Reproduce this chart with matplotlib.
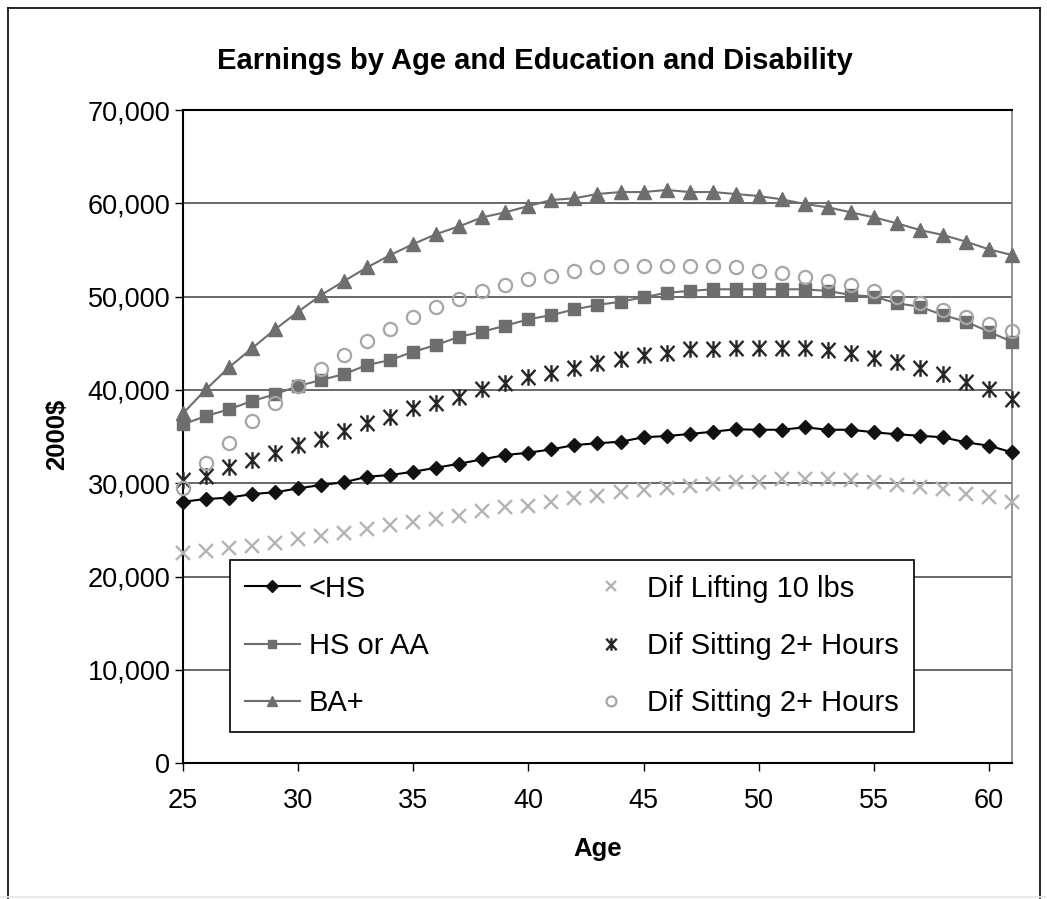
import matplotlib
matplotlib.use("Agg")
import matplotlib.pyplot as plt
from matplotlib.path import Path
from matplotlib.lines import Line2D
from matplotlib.ticker import FuncFormatter

plt.rcParams['font.family'] = ['Liberation Sans', 'DejaVu Sans']

# Age axis
ages = list(range(25, 62))

# Annual earnings (2000 dollars) by age
less_hs = [28030, 28320, 28460, 28850, 29040, 29460, 29820, 30110, 30710, 30890,
           31240, 31670, 32100, 32570, 33030, 33280, 33640, 34100, 34290, 34460,
           34930, 35070, 35280, 35530, 35790, 35740, 35740, 36000, 35740, 35740,
           35470, 35250, 35100, 34930, 34390, 34030, 33320]
hs_or_aa = [36320, 37210, 37930, 38820, 39540, 40430, 41070, 41710, 42680, 43210,
            44100, 44820, 45710, 46240, 46890, 47570, 48030, 48640, 49110, 49460,
            49930, 50420, 50610, 50790, 50790, 50790, 50790, 50790, 50610, 50180,
            50000, 49290, 48920, 48030, 47320, 46240, 45170]
ba_plus = [37500, 40070, 42430, 44470, 46500, 48390, 50180, 51680, 53140, 54460,
           55640, 56710, 57540, 58500, 59040, 59710, 60360, 60540, 61000, 61210,
           61210, 61430, 61210, 61210, 61000, 60780, 60430, 59930, 59570, 59040,
           58500, 57860, 57140, 56610, 55890, 55070, 54460]
dif_lifting = [22500, 22750, 23100, 23280, 23570, 24030, 24350, 24710, 25070, 25530,
               25820, 26140, 26550, 27030, 27430, 27570, 28030, 28390, 28640, 29100,
               29280, 29460, 29710, 29950, 30140, 30170, 30430, 30460, 30430, 30350,
               30170, 29820, 29570, 29360, 28820, 28570, 28030]
dif_sitting_a = [30350, 30780, 31780, 32500, 33280, 34100, 34720, 35640, 36430, 37140,
                 38040, 38570, 39220, 40070, 40720, 41360, 41790, 42390, 42860, 43290,
                 43750, 43930, 44360, 44360, 44470, 44470, 44470, 44470, 44280, 43930,
                 43390, 43030, 42320, 41710, 40890, 40070, 39000]
dif_sitting_b = [29530, 32140, 34290, 36710, 38570, 40430, 42220, 43750, 45250, 46530,
                 47850, 48860, 49720, 50610, 51250, 51890, 52240, 52750, 53140, 53320,
                 53320, 53320, 53320, 53320, 53140, 52750, 52500, 52070, 51710, 51220,
                 50610, 49930, 49290, 48570, 47790, 47070, 46350]

labels = ["<HS", "HS or AA", "BA+", "Dif Lifting 10 lbs",
          "Dif Sitting 2+ Hours", "Dif Sitting 2+ Hours"]
y_ticks = [0, 10000, 20000, 30000, 40000, 50000, 60000, 70000]
x_ticks = [25, 30, 35, 40, 45, 50, 55, 60]

# Excel-style star: an x with a vertical bar through it
star = Path([(-0.5, -0.55), (0.5, 0.55), (-0.5, 0.55), (0.5, -0.55), (0, -0.6), (0, 0.6)],
            [Path.MOVETO, Path.LINETO, Path.MOVETO, Path.LINETO, Path.MOVETO, Path.LINETO])

W, H = 1047, 899
fig = plt.figure(figsize=(W / 100, H / 100), dpi=100)
fig.patch.set_facecolor("white")

left, right, top, bottom = 183, 1012, 110, 763.3
ax = fig.add_axes([left / W, 1 - bottom / H, (right - left) / W, (bottom - top) / H])

dark_gray = "#6e6e6e"
ax.plot(ages, less_hs, color="#000000", lw=1.5, marker="D", ms=7.5,
        mfc="#111111", mec="#111111", clip_on=False, zorder=3, label=labels[0])
ax.plot(ages, hs_or_aa, color=dark_gray, lw=1.5, marker="s", ms=8.5,
        mfc=dark_gray, mec=dark_gray, clip_on=False, zorder=3, label=labels[1])
ax.plot(ages, ba_plus, color=dark_gray, lw=1.5, marker="^", ms=10.5,
        mfc=dark_gray, mec=dark_gray, clip_on=False, zorder=3, label=labels[2])
ax.plot(ages, dif_lifting, ls="none", marker="x", ms=9.5, mew=1.7,
        color="#b4b4b4", clip_on=False, zorder=4, label=labels[3])
ax.plot(ages, dif_sitting_a, ls="none", marker=star, ms=12, mew=1.7,
        color="#262626", clip_on=False, zorder=4, label=labels[4])
ax.plot(ages, dif_sitting_b, ls="none", marker="o", ms=9.5, mew=1.6,
        mfc="none", mec="#a6a6a6", clip_on=False, zorder=5, label=labels[5])

ax.set_xlim(25, 61)
ax.set_ylim(0, 70000)
ax.set_xticks(x_ticks)
ax.set_yticks(y_ticks)
ax.yaxis.set_major_formatter(FuncFormatter(lambda v, p: f"{v:,.0f}"))
ax.yaxis.grid(True, color="#404040", lw=1.1, zorder=1)
ax.set_axisbelow(True)

ax.tick_params(axis="both", direction="out", length=6, width=1, color="#000000",
               labelsize=19.5, labelcolor="#000000")
ax.tick_params(axis="y", pad=3)
ax.tick_params(axis="x", pad=11.5)

for side in ["left", "bottom", "top"]:
    ax.spines[side].set_color("#000000")
    ax.spines[side].set_linewidth(1.5)
ax.spines["right"].set_color("#808080")
ax.spines["right"].set_linewidth(1.2)

ax.set_xlabel("Age", fontsize=18.5, fontweight="bold", labelpad=16.5)
fig.text(57 / W, 1 - 434 / H, "2000$", fontsize=18.5, fontweight="bold",
         rotation=90, ha="center", va="center")

fig.text(535 / W, 1 - 61 / H, "Earnings by Age and Education and Disability",
         fontsize=21, fontweight="bold", ha="center", va="center")

leg = ax.legend(ncol=2, loc="upper left",
                bbox_to_anchor=(230 / W, 1 - 560 / H), bbox_transform=fig.transFigure,
                fontsize=21, frameon=True, fancybox=False, edgecolor="#000000",
                framealpha=1, borderpad=0.5, labelspacing=1.0, handlelength=1.9,
                handletextpad=0.3, columnspacing=5.3, markerscale=0.75,
                borderaxespad=0)
leg.get_frame().set_linewidth(1.2)
leg.set_zorder(10)

# chart area border
fig.add_artist(Line2D([8 / W, 8 / W], [0, 1 - 8 / H], color="#000000", lw=1.2,
                      transform=fig.transFigure))
fig.add_artist(Line2D([8 / W, 1040 / W], [1 - 8 / H, 1 - 8 / H], color="#000000", lw=1.2,
                      transform=fig.transFigure))
fig.add_artist(Line2D([1040 / W, 1040 / W], [1 - 8 / H, 0], color="#000000", lw=1.2,
                      transform=fig.transFigure))
fig.add_artist(Line2D([0, 1], [1 - 897 / H, 1 - 897 / H], color="#e6e6e6", lw=1.2,
                      transform=fig.transFigure))

fig.savefig("out.png", dpi=100)
